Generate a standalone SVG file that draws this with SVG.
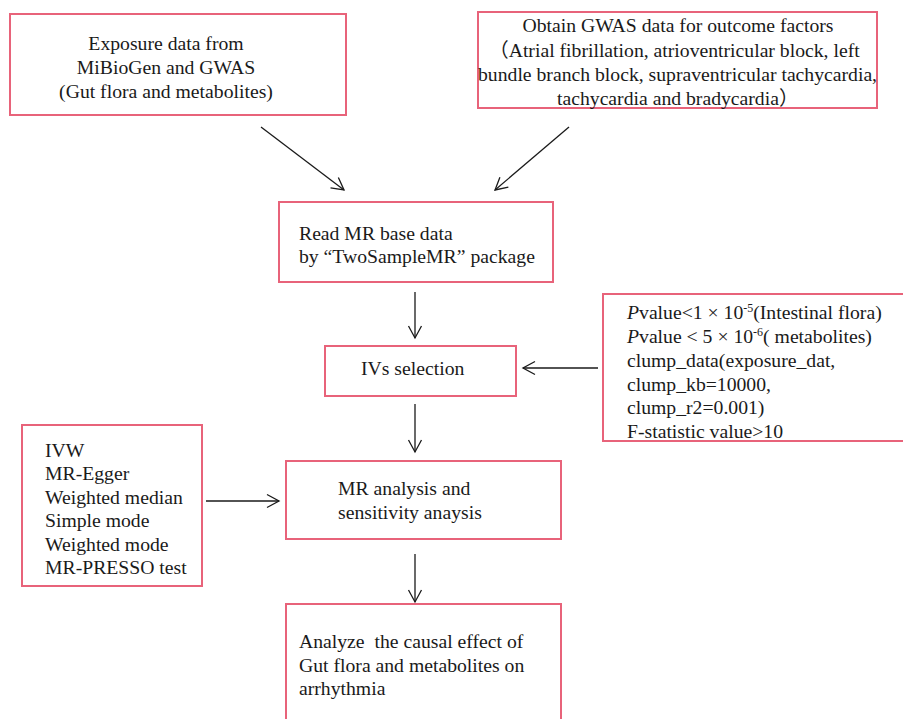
<svg xmlns="http://www.w3.org/2000/svg" width="903" height="719" viewBox="0 0 903 719">
<style>
.box{fill:#ffffff;stroke:#e8637a;stroke-width:2}
.t{font-family:"Liberation Serif","Times New Roman","Noto Sans CJK SC",serif;font-size:19.7px;fill:#1a1a1a}
.c{stroke:#1a1a1a;stroke-width:1.3;fill:none}
</style>
<defs>
<marker id="ah" markerUnits="userSpaceOnUse" markerWidth="16" markerHeight="16" viewBox="0 0 16 16" refX="14" refY="8" orient="auto">
<path d="M2,1.5 L14,8 L2,14.5" fill="none" stroke="#1a1a1a" stroke-width="1.3"/>
</marker>
</defs>
<rect width="903" height="719" fill="#ffffff"/>
<g id="n1">
<rect class="box" x="10" y="14" width="336" height="101"/>
<text class="t" x="166" y="50" text-anchor="middle">Exposure data from</text>
<text class="t" x="166" y="74" text-anchor="middle">MiBioGen and GWAS</text>
<text class="t" x="166" y="98" text-anchor="middle">(Gut flora and metabolites)</text>
</g>
<g id="n2">
<rect class="box" x="478" y="12" width="399" height="96"/>
<text class="t" x="678" y="32" text-anchor="middle">Obtain GWAS data for outcome factors</text>
<text class="t" x="489" y="57">（Atrial fibrillation, atrioventricular block, left</text>
<text class="t" x="478" y="81">bundle branch block, supraventricular tachycardia,</text>
<text class="t" x="557" y="105">tachycardia and bradycardia）</text>
</g>
<g id="n3">
<rect class="box" x="279" y="202" width="274" height="80"/>
<text class="t" x="299" y="240">Read MR base data</text>
<text class="t" x="299" y="263">by “TwoSampleMR” package</text>
</g>
<g id="n4">
<rect class="box" x="325" y="346" width="191" height="50"/>
<text class="t" x="361" y="375">IVs selection</text>
</g>
<g id="n5">
<rect class="box" x="603" y="294" width="310" height="147"/>
<text class="t" x="627" y="319"><tspan font-style="italic">P</tspan>value&lt;1 × 10<tspan font-size="12" dy="-7">-5</tspan><tspan dy="7">(Intestinal flora)</tspan></text>
<text class="t" x="627" y="343"><tspan font-style="italic">P</tspan>value &lt; 5 × 10<tspan font-size="12" dy="-7">-6</tspan><tspan dy="7">( metabolites)</tspan></text>
<text class="t" x="627" y="367">clump_data(exposure_dat,</text>
<text class="t" x="627" y="391">clump_kb=10000,</text>
<text class="t" x="627" y="414">clump_r2=0.001)</text>
<text class="t" x="627" y="438">F-statistic value&gt;10</text>
</g>
<g id="n6">
<rect class="box" x="22" y="425" width="180" height="161"/>
<text class="t" x="45" y="457">IVW</text>
<text class="t" x="45" y="480">MR-Egger</text>
<text class="t" x="45" y="504">Weighted median</text>
<text class="t" x="45" y="527">Simple mode</text>
<text class="t" x="45" y="551">Weighted mode</text>
<text class="t" x="45" y="574">MR-PRESSO test</text>
</g>
<g id="n7">
<rect class="box" x="286" y="461" width="275" height="78"/>
<text class="t" x="338" y="495">MR analysis and</text>
<text class="t" x="338" y="519">sensitivity anaysis</text>
</g>
<g id="n8">
<rect class="box" x="286" y="604" width="275" height="125"/>
<text class="t" x="299" y="648" xml:space="preserve">Analyze  the causal effect of</text>
<text class="t" x="299" y="672">Gut flora and metabolites on</text>
<text class="t" x="299" y="695">arrhythmia</text>
</g>
<g id="connectors">
<line class="c" x1="261" y1="127" x2="344" y2="190" marker-end="url(#ah)"/>
<line class="c" x1="569" y1="127" x2="495" y2="190" marker-end="url(#ah)"/>
<line class="c" x1="415" y1="292" x2="415" y2="338" marker-end="url(#ah)"/>
<line class="c" x1="598" y1="368" x2="523" y2="368" marker-end="url(#ah)"/>
<line class="c" x1="415" y1="404" x2="415" y2="452" marker-end="url(#ah)"/>
<line class="c" x1="206" y1="501" x2="279" y2="501" marker-end="url(#ah)"/>
<line class="c" x1="415" y1="554" x2="415" y2="602" marker-end="url(#ah)"/>
</g>
</svg>
